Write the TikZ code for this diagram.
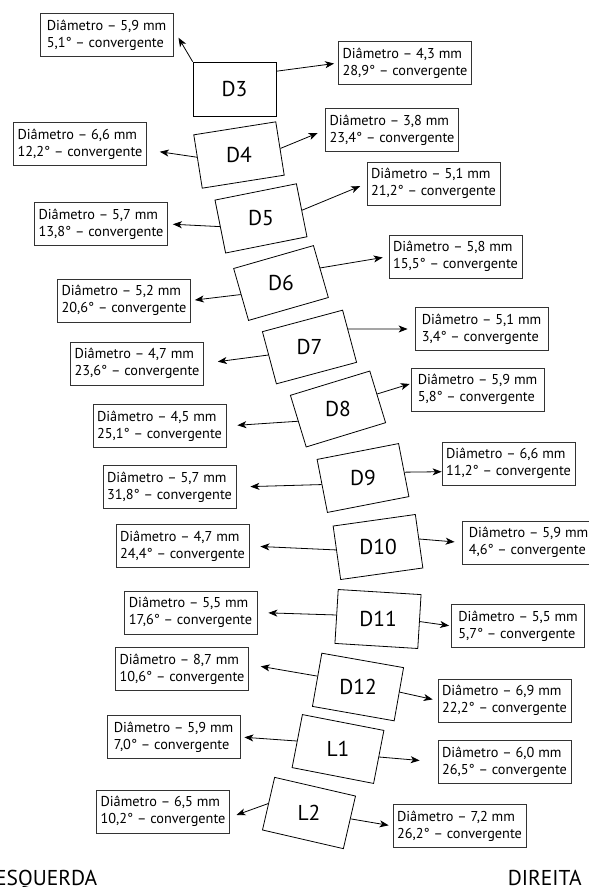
\documentclass[tikz,border=0pt]{standalone}
\usepackage{fontspec}
\setmainfont{PT Sans}
\usetikzlibrary{arrows.meta}

\begin{document}
\begin{tikzpicture}
[x=1pt,y=-1pt,
 caixa/.style={draw,line width=0.8pt,minimum width=83pt,minimum height=54pt,inner sep=0pt},
 nome/.style={font=\fontsize{21.5}{24}\selectfont,inner sep=0pt},
 rotulo/.style={draw=black!80,line width=0.8pt,minimum width=133pt,minimum height=43pt,inner sep=2pt,align=left,font=\fontsize{14.3}{17.3}\selectfont},
 seta/.style={-{Stealth[length=9pt,width=7pt,inset=2.5pt]},line width=0.8pt},
 lado/.style={font=\fontsize{21.5}{24}\selectfont,inner sep=0pt}]
\useasboundingbox (0,0) rectangle (589,887);

% caixas dos dentes
\foreach \n/\x/\y/\r in {D3/234.5/89/0, D4/239/155/9, D5/261/218.4/11.3,
  D6/281/283/16, D7/309.5/347/15, D8/338/409/17, D9/363/478/11,
  D10/378/547/8, D11/378/619/-3.5, D12/358/687/-10, L1/338/749/-11,
  L2/309/813/-13}
  {
  \node[caixa,rotate=\r] (\n) at (\x,\y) {};
  \node[nome] (t\n) at (\n) {\n};
  }

% lado esquerdo
\foreach \n/\x/\y/\d/\a in {D3/106.5/35/{5,9}/{5,1}, D4/80/144/{6,6}/{12,2},
  D5/101/224/{5,7}/{13,8}, D6/124/300.5/{5,2}/{20,6}, D7/137/363.5/{4,7}/{23,6},
  D8/159.5/426/{4,5}/{25,1}, D9/169.5/487/{5,7}/{31,8}, D10/182.5/546/{4,7}/{24,4},
  D11/190.5/612.5/{5,5}/{17,6}, D12/182/669/{8,7}/{10,6}, L1/173.5/737/{5,9}/{7,0},
  L2/163/811.5/{6,5}/{10,2}}
  \node[rotulo] (esq\n) at (\x,\y) {Diâmetro – \d{} mm\\\a° – convergente};

% lado direito
\foreach \n/\x/\y/\d/\a in {D3/405/63/{4,3}/{28,9}, D4/392/130/{3,8}/{23,4},
  D5/433.5/183.5/{5,1}/{21,2}, D6/455.5/256.5/{5,8}/{15,5}, D7/481.5/329/{5,1}/{3,4},
  D8/477.5/389.5/{5,9}/{5,8}, D9/508.5/463.5/{6,6}/{11,2}, D10/528.5/542.5/{5,9}/{4,6},
  D11/518/626/{5,5}/{5,7}, D12/504.5/700.5/{6,9}/{22,2}, L1/504.5/762/{6,0}/{26,5},
  L2/459.5/826/{7,2}/{26,2}}
  \node[rotulo] (dir\n) at (\x,\y) {Diâmetro – \d{} mm\\\a° – convergente};

\foreach \a/\b/\s in {D3.north west/esqD3.5/10, D3.23/dirD3.west/4,
  D4.174/esqD4.-5/13, D4.east/dirD4.west/8,
  D5.west/esqD5.east/5, D5.east/dirD5.west/7,
  D6.west/esqD6.east/4, D6.5/dirD6.west/6,
  D7.176/esqD7.east/14, D7.10/dirD7.west/7,
  D8.west/esqD8.east/11, D8.4/dirD8.175/1,
  D9.178/esqD9.east/14, D9.-3/dirD9.187/0,
  D10.176/esqD10.east/11, D10.3/dirD10.west/7,
  D11.178/esqD11.east/11, D11.east/dirD11.west/2,
  D12.175/esqD12.4/12, D12.3/dirD12.west/5,
  L1.west/esqL1.east/4, L1.east/dirL1.west/18,
  L2.west/esqL2.-5/7, L2.5/dirL2.west/4}
  \draw[seta,shorten >=\s pt] (\a) -- (\b);

\node[lado,anchor=base west] (esquerda) at (-5,885) {ESQUERDA};
\node[lado,anchor=base east] (direita) at (582,885) {DIREITA};
\end{tikzpicture}
\end{document}
